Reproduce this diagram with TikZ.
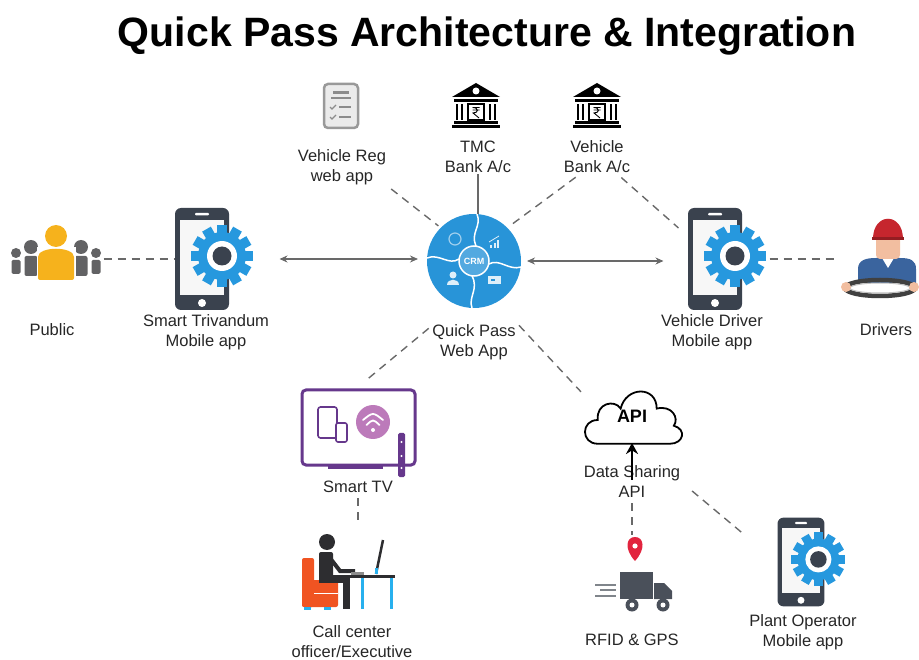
\documentclass[tikz,border=0pt]{standalone}
\usepackage{fontspec}
\setmainfont{Liberation Sans}
\usetikzlibrary{arrows.meta,positioning}

\definecolor{gearblue}{RGB}{38,152,222}
\definecolor{phonegray}{RGB}{58,66,78}
\definecolor{crmblue}{RGB}{40,148,216}
\definecolor{linegray}{RGB}{105,105,105}
\definecolor{tvpurple}{RGB}{102,56,140}
\definecolor{wifipink}{RGB}{188,122,186}
\definecolor{peopleorange}{RGB}{246,178,28}
\definecolor{peoplegray}{RGB}{98,98,100}
\definecolor{chairorange}{RGB}{240,84,34}
\definecolor{deskblue}{RGB}{40,176,238}
\definecolor{persondark}{RGB}{45,45,48}
\definecolor{pinred}{RGB}{226,36,62}
\definecolor{truckgray}{RGB}{74,80,90}
\definecolor{capred}{RGB}{198,38,46}
\definecolor{skin}{RGB}{242,190,160}
\definecolor{shirtblue}{RGB}{58,100,158}

\tikzset{
  lbl/.style={font=\fontsize{16.5}{20}\selectfont, align=center, text=black!85, inner sep=1pt},
  icon/.style={inner sep=0pt, outer sep=0pt},
  dashlink/.style={draw=linegray, line width=1.4pt, dash pattern=on 8pt off 6pt},
  solidlink/.style={draw=linegray, line width=1.4pt},
  arrowlink/.style={solidlink, {Stealth[length=8pt,width=7pt]}-{Stealth[length=8pt,width=7pt]}},
  % phone with a gear on its screen
  pics/mobile/.style={code={
    \fill[phonegray, rounded corners=6pt] (-27,-51) rectangle (27,51);
    \fill[black!3] (-22,-39) rectangle (22,36);
    \fill[white, rounded corners=1pt] (-7,-46) rectangle (7,-43.5);
    \fill[white] (0,44) circle (4pt);
    \begin{scope}[shift={(20,-3)}]
      \foreach \a in {0,30,...,330}
        \fill[gearblue, rotate=\a] (-5,-31) rectangle (5,-21);
      \fill[gearblue] (0,0) circle (24pt);
      \fill[white] (0,0) circle (15pt);
      \fill[phonegray] (0,0) circle (9.5pt);
    \end{scope}
  }},
  % bank building
  pics/bank/.style={code={
    \fill (0,-23) -- (24,-9) -- (-24,-9) -- cycle;
    \fill[white] (0,-15) circle (3.5pt);
    \fill (-22,-7) rectangle (22,-4);
    \foreach \x in {-19,-14,14,19}
      \fill (\x-1.3,-2) rectangle (\x+1.3,14);
    \draw[line width=1.4pt] (-8,-2) rectangle (8,14);
    \draw[line width=0.9pt] (-3.5,1.5) -- (3.5,1.5) (-3.5,4) -- (3.5,4)
      (-3.5,1.5) .. controls (3,1.5) and (3,7) .. (-3,7) -- (3,12);
    \fill (-22,15) rectangle (22,18);
    \fill (-24,19) rectangle (24,22);
  }},
}

\begin{document}
\begin{tikzpicture}[x=1pt,y=-1pt]
\useasboundingbox (0,0) rectangle (919,660);

\node (title) at (487,36) {\fontsize{41}{46}\selectfont\bfseries Quick Pass Architecture \& Integration};

% icon boxes
\node[icon, minimum width=38pt, minimum height=48pt] (vreg) at (341,106) {};
\node[icon, minimum width=48pt, minimum height=46pt] (tmc) at (476,106) {};
\node[icon, minimum width=48pt, minimum height=46pt] (vbank) at (597,106) {};
\node[icon, circle, minimum size=94pt] (crm) at (474,261) {};
\node[icon, minimum width=95pt, minimum height=70pt] (public) at (56,259) {};
\node[icon, minimum width=55pt, minimum height=103pt] (stapp) at (202,259) {};
\node[icon, minimum width=55pt, minimum height=103pt] (vdapp) at (715,259) {};
\node[icon, minimum width=76pt, minimum height=85pt] (drivers) at (884,259) {};
\node[icon, minimum width=118pt, minimum height=82pt] (tv) at (358,428) {};
\node[icon, minimum width=97pt, minimum height=80pt] (callc) at (348,572) {};
\node[icon, minimum width=98pt, minimum height=52pt] (api) at (632,420) {};
\node[icon, minimum width=78pt, minimum height=72pt] (rfid) at (632,579) {};
\node[icon, minimum width=48pt, minimum height=90pt] (plant) at (801,562) {};

% labels
\node[lbl] (vreglbl) at (342,167) {Vehicle Reg\\web app};
\node[lbl] (tmclbl) at (478,157) {TMC\\Bank A/c};
\node[lbl] (vbanklbl) at (597,157) {Vehicle\\Bank A/c};
\node[lbl] (crmlbl) at (474,342) {Quick Pass\\Web App};
\node[lbl] (publbl) at (52,330) {Public};
\node[lbl] (stlbl) at (206,332) {Smart Trivandum\\Mobile app};
\node[lbl] (vdlbl) at (712,332) {Vehicle Driver\\Mobile app};
\node[lbl] (drvlbl) at (886,330) {Drivers};
\node[lbl] (tvlbl) at (358,487) {Smart TV};
\node[lbl] (cclbl) at (352,642) {Call center\\officer/Executive};
\node[lbl] (apilbl) at (632,482) {Data Sharing\\API};
\node[lbl] (rfidlbl) at (632,640) {RFID \& GPS};
\node[lbl] (plantlbl) at (803,632) {Plant Operator\\Mobile app};

% vehicle registration form
\begin{scope}[shift={(vreg)}]
  \draw[line width=2.5pt, draw=black!40, fill=black!8, rounded corners=4pt] (-17,-22) rectangle (17,22);
  \fill[black!45] (-8,-15) rectangle (8,-12);
  \fill[black!45] (-10,-9) rectangle (10,-7);
  \foreach \y in {1,11} {
    \draw[black!45, line width=1.2pt] (-11,\y) -- (-9,\y+2) -- (-5,\y-2);
    \fill[black!45] (-2,\y-0.8) rectangle (10,\y+0.8);
  }
\end{scope}

\pic at (tmc) {bank};
\pic at (vbank) {bank};

% CRM wheel
\begin{scope}[shift={(crm)}]
  \fill[crmblue] (0,0) circle (47pt);
  \draw[white, line width=1.5pt] (2,-15) .. controls (-4,-28) and (8,-35) .. (3,-47)
    (15,3) .. controls (25,-3) and (35,10) .. (47,6)
    (-2,15) .. controls (5,28) and (-6,36) .. (-2,47)
    (-15,-2) .. controls (-25,5) and (-35,-8) .. (-47,-3);
  \draw[white, line width=1.5pt, fill=crmblue!80!white] (0,0) circle (15pt);
  \draw[white, opacity=.55, line width=1.2pt] (-19,-22) circle (6pt);
  \foreach \x/\h in {16/3,19.5/5,23/8}
    \fill[white, opacity=.85] (\x,-13) rectangle (\x+2.2,-13-\h);
  \draw[white, opacity=.85, line width=.8pt] (15,-19) -- (20,-22) -- (25,-25);
  \fill[white, opacity=.85] (-21,14) circle (3.5pt);
  \fill[white, opacity=.85] (-27,24) .. controls (-27,17) and (-15,17) .. (-15,24) -- cycle;
  \fill[white, opacity=.85] (14,15) rectangle (27,23);
  \fill[crmblue] (17,18) rectangle (21,20);
\end{scope}
\node[font=\fontsize{9}{9}\selectfont\bfseries, text=white] (crmtxt) at (crm) {CRM};

% public
\begin{scope}[shift={(public)}]
  \foreach \s in {-1,1} {
    \fill[peoplegray] (\s*40,-6) circle (5pt);
    \fill[peoplegray, rounded corners=1.5pt] (\s*40-4.5,1) rectangle (\s*40+4.5,15);
    \fill[peoplegray] (\s*25,-12) circle (7pt);
    \fill[peoplegray, rounded corners=2pt] (\s*25-6.5,-3) rectangle (\s*25+6.5,17);
  }
  \fill[white] (-19.5,-12) rectangle (19.5,22);
  \fill[peopleorange] (0,-23) circle (11pt);
  \fill[peopleorange, rounded corners=2pt] (-18,21) -- (-18,0) .. controls (-18,-13) and (18,-13) .. (18,0) -- (18,21) -- cycle;
\end{scope}

\pic at (stapp) {mobile};
\pic at (vdapp) {mobile};
\pic[scale=0.87] at (plant) {mobile};

% driver at the wheel
\begin{scope}[shift={(drivers)}]
  \fill[shirtblue] (-26,24) -- (-26,10) .. controls (-26,1) and (-18,-1) .. (-8,-1)
    -- (16,-1) .. controls (26,-1) and (32,1) .. (32,10) -- (32,24) -- cycle;
  \fill[white] (-2,-1) -- (4,9) -- (10,-1) -- cycle;
  \fill[skin, rounded corners=4pt] (-8,-24) rectangle (16,0);
  \fill[capred] (-11,-20) .. controls (-11,-47) and (19,-47) .. (19,-20) -- cycle;
  \fill[capred!75!black] (-12,-22) rectangle (20,-19);
  \draw[black!75, line width=4.5pt] (-4,29) ellipse (35pt and 8pt);
  \draw[black!25, line width=1pt] (-4,29) ellipse (30pt and 5pt);
  \fill[skin] (-38,28) circle (5pt);
  \fill[skin] (30,28) circle (5pt);
\end{scope}

% smart TV
\begin{scope}[shift={(tv)}]
  \draw[tvpurple, line width=3pt, rounded corners=4pt] (-56,-38) rectangle (57,37);
  \fill[tvpurple] (-30,37) rectangle (25,41);
  \draw[tvpurple, line width=1.6pt, rounded corners=2.5pt] (-40,-21) rectangle (-21,10);
  \draw[tvpurple, line width=1.6pt, rounded corners=2pt, fill=white] (-22,-5) rectangle (-11,14);
  \fill[wifipink] (15,-6) circle (17pt);
  \draw[white, line width=1.8pt, line cap=round] (5,-8) .. controls (15,-16) .. (25,-8)
    (8.5,-3) .. controls (15,-9) .. (21.5,-3);
  \fill[white] (15,2) circle (2pt);
  \fill[tvpurple, rounded corners=1.5pt] (40,5) rectangle (47,49);
  \foreach \y in {14,28,40} \fill[white] (43.5,\y) circle (1.2pt);
\end{scope}

% call centre desk
\begin{scope}[shift={(callc)}]
  \fill[chairorange, rounded corners=2pt] (-46,-14) rectangle (-34,35);
  \fill[chairorange, rounded corners=2pt] (-46,8) rectangle (-10,35);
  \draw[white, line width=1pt] (-34,21) -- (-10,21);
  \fill[deskblue] (-44,35) rectangle (-37,38);
  \fill[deskblue] (-24,35) rectangle (-17,38);
  \fill[persondark] (-21,-30) circle (8pt);
  \fill[persondark, rounded corners=2pt] (-29,-20) rectangle (-15,10);
  \draw[persondark, line width=4pt] (-18,-14) -- (-8,-1) -- (7,-1);
  \fill[persondark] (-29,3) rectangle (2,11);
  \fill[persondark] (-5,3) rectangle (2,37);
  \fill[persondark] (-3,3) rectangle (47,6);
  \fill[black!45] (3,0) rectangle (16,2.5);
  \fill[deskblue] (13,6) rectangle (16,37);
  \fill[deskblue] (42,6) rectangle (45,37);
  \draw[persondark, line width=2.5pt] (28,2) -- (35,-32);
  \fill[deskblue] (27,-4) rectangle (30,2);
\end{scope}

% API cloud
\begin{scope}[shift={(api)}, scale=0.95]
  \draw[black, line width=1.8pt] (-36,25) .. controls (-54,25) and (-54,0) .. (-36,0)
    .. controls (-38,-18) and (-18,-22) .. (-12,-12)
    .. controls (-6,-36) and (26,-36) .. (26,-12)
    .. controls (42,-16) and (50,-2) .. (44,6)
    .. controls (58,10) and (54,25) .. (40,25) -- cycle;
\end{scope}
\node[font=\fontsize{18}{18}\selectfont\bfseries] (apitxt) at ([yshift=4pt]api.center) {API};

% truck with GPS pin
\begin{scope}[shift={(rfid)}]
  \fill[pinred] (3,-18) .. controls (-8,-30) and (-6,-42) .. (3,-42)
    .. controls (12,-42) and (14,-30) .. (3,-18);
  \fill[white] (3,-33) circle (2.6pt);
  \fill[truckgray] (-12,-7) rectangle (21,20);
  \fill[truckgray] (22,4) -- (32,4) -- (40,12) -- (40,20) -- (22,20) -- cycle;
  \foreach \x in {0,31} {
    \fill[truckgray] (\x,26) circle (6.5pt);
    \fill[white] (\x,26) circle (2.5pt);
  }
  \draw[truckgray!70, line width=1.5pt] (-37,6) -- (-16,6) (-32,11) -- (-16,11) (-37,17) -- (-16,17);
\end{scope}

% connectors
\draw[dashlink] (public) -- (stapp);
\draw[arrowlink, shorten <=50pt, shorten >=9pt] (stapp.east) -- (stapp.east -| crm.west);
\draw[arrowlink, shorten <=6pt, shorten >=24pt] (crm.east) -- (crm.east -| vdapp.west);
\draw[dashlink, shorten <=27pt, shorten >=8pt] (vdapp.east) -- (vdapp.east -| drivers.west);
\draw[dashlink, shorten <=5pt, shorten >=3pt] (vreglbl.south east) -- (crm.north west);
\draw[solidlink] (tmclbl.south) -- (tmclbl.south |- crm.north);
\draw[dashlink, shorten <=5pt, shorten >=3pt] (vbanklbl.-135) -- (crm.north east);
\draw[dashlink, shorten <=5pt, shorten >=12pt] (vbanklbl.-40) -- (vdapp.140);
\draw[dashlink, shorten <=3pt, shorten >=12pt] (crmlbl.160) -- (tv.north);
\draw[dashlink, shorten <=3pt, shorten >=3pt] (crmlbl.north east) -- (api.north west);
\draw[dashlink, shorten <=4pt, shorten >=6pt] (tvlbl.south) -- (tvlbl.south |- callc.north);
\draw[dashlink, shorten <=4pt, shorten >=8pt] (apilbl.south) -- (apilbl.south |- rfid.north);
\draw[dashlink, shorten <=14pt, shorten >=45pt] (apilbl.east) -- (plant.west);
\draw[black, line width=2.8pt, -{Stealth[length=11pt,width=12pt]}] ([yshift=-15pt]apilbl.north) -- ([yshift=3pt]api.south);

\end{tikzpicture}
\end{document}
